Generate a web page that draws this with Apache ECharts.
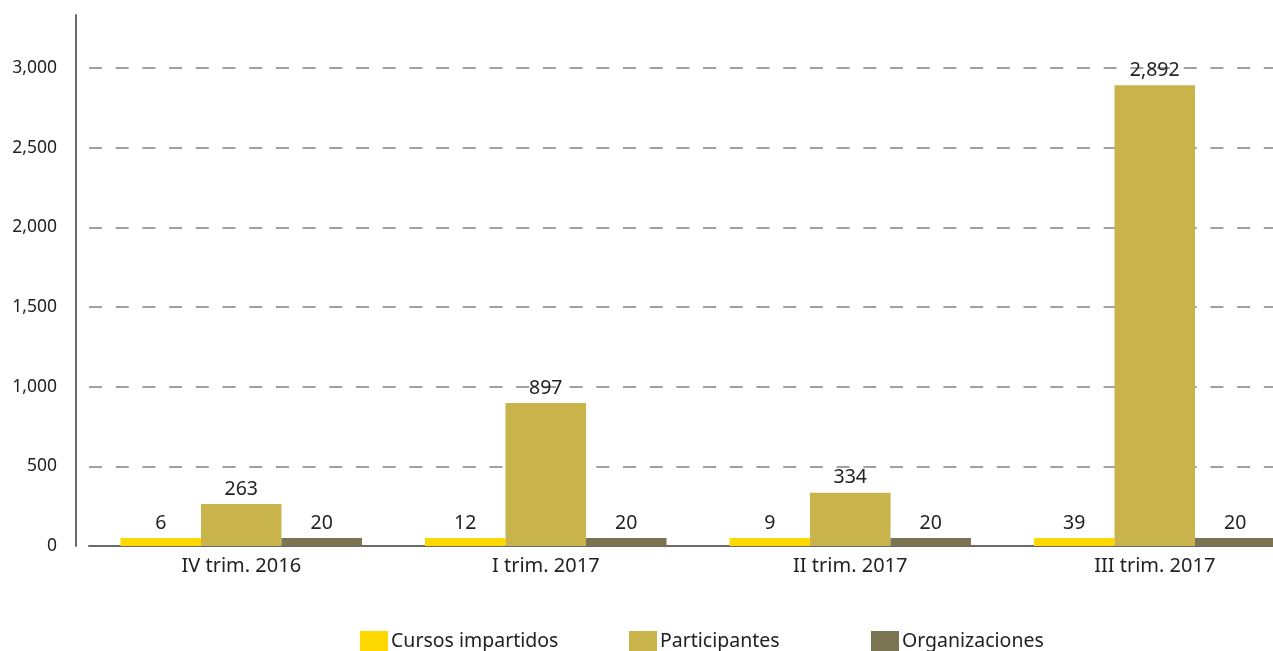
<!DOCTYPE html>
<html>
<head>
<meta charset="utf-8">
<script src="https://cdn.jsdelivr.net/npm/echarts@6/dist/echarts.min.js"></script>
<style>
html,body{margin:0;padding:0;background:#fff;}
#chart{width:1273px;height:651px;}
</style>
</head>
<body>
<div id="chart"></div>
<script>
const categories = ['IV trim. 2016', 'I trim. 2017', 'II trim. 2017', 'III trim. 2017'];
const seriesNames = ['Cursos impartidos', 'Participantes', 'Organizaciones'];
const cursos = [6, 12, 9, 39];
const participantes = [263, 897, 334, 2892];
const organizaciones = [20, 20, 20, 20];
const yTicks = [0, 500, 1000, 1500, 2000, 2500, 3000];

const FONT = '"Noto Sans", sans-serif';
const colors = ['#FFD800', '#C9B44C', '#7B7453'];
const values = [cursos, participantes, organizaciones];

const chart = echarts.init(document.getElementById('chart'));
const fmt = v => v.toLocaleString('en-US');

chart.setOption({
  animation: false,
  textStyle: { fontFamily: FONT },
  grid: { left: 89, width: 1218, top: 15, bottom: 105, containLabel: false, outerBoundsMode: 'none' },
  legend: [
    { data: [seriesNames[0]], left: 360, top: 631 },
    { data: [seriesNames[1]], left: 629, top: 631 },
    { data: [seriesNames[2]], left: 871, top: 631 }
  ].map(l => Object.assign(l, {
    icon: 'rect', itemWidth: 28, itemHeight: 20, itemGap: 0, padding: 0,
    textStyle: { fontFamily: FONT, fontSize: 19.5, color: '#222', padding: [0, 0, 0, -2] }
  })),
  xAxis: {
    type: 'category',
    data: categories,
    axisLine: { lineStyle: { color: '#6a6a6a', width: 2 } },
    axisTick: { show: false },
    axisLabel: { fontFamily: FONT, fontSize: 20, color: '#222', margin: 10 }
  },
  yAxis: {
    type: 'value',
    min: 0,
    max: 3333,
    interval: 500,
    offset: 13,
    axisLine: { show: true, lineStyle: { color: '#6a6a6a', width: 2 } },
    axisTick: { show: false },
    axisLabel: {
      fontFamily: FONT, fontSize: 17.5, color: '#222', margin: 19,
      showMaxLabel: false,
      formatter: v => (yTicks.indexOf(v) >= 0 ? fmt(v) : '')
    },
    splitLine: {
      show: true, showMinLine: false, showMaxLine: false,
      lineStyle: { color: '#a0a0a0', width: 2, type: [13, 13.7] }
    }
  },
  series: seriesNames.map((name, i) => ({
    name: name,
    type: 'bar',
    data: values[i],
    barWidth: 80.5,
    barGap: '0%',
    barMinHeight: 8,
    itemStyle: { color: colors[i] },
    label: {
      show: true, position: 'top', distance: 5,
      fontFamily: FONT, fontSize: 19.5, color: '#222',
      formatter: p => fmt(p.value)
    }
  }))
});
</script>
</body>
</html>
